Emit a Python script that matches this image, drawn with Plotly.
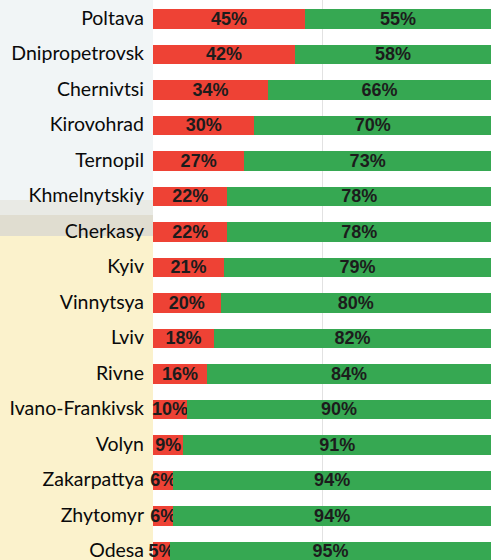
import plotly.graph_objects as go

regions = ["Poltava", "Dnipropetrovsk", "Chernivtsi", "Kirovohrad", "Ternopil",
           "Khmelnytskiy", "Cherkasy", "Kyiv", "Vinnytsya", "Lviv", "Rivne",
           "Ivano-Frankivsk", "Volyn", "Zakarpattya", "Zhytomyr", "Odesa"]
red_values = [45, 42, 34, 30, 27, 22, 22, 21, 20, 18, 16, 10, 9, 6, 6, 5]
green_values = [55, 58, 66, 70, 73, 78, 78, 79, 80, 82, 84, 90, 91, 94, 94, 95]

RED = "#ee4235"
GREEN = "#36a852"
TEXTFONT = dict(family="Liberation Sans, Arial", size=18, color="#1c1c1c", weight="bold")

fig = go.Figure()
fig.add_trace(go.Bar(
    y=regions, x=red_values, orientation="h", marker=dict(color=RED, line=dict(width=0)),
    text=[f"{v}%" for v in red_values], textposition="inside", insidetextanchor="middle",
    constraintext="none", textangle=0, cliponaxis=False, textfont=TEXTFONT, hoverinfo="skip",
))
fig.add_trace(go.Bar(
    y=regions, x=green_values, orientation="h", marker=dict(color=GREEN, line=dict(width=0)),
    text=[f"{v}%" for v in green_values], textposition="inside", insidetextanchor="middle",
    constraintext="none", textangle=0, cliponaxis=False, textfont=TEXTFONT, hoverinfo="skip",
))

H = 560
def py(px):
    return 1 - px / H

shapes = [
    dict(type="rect", xref="paper", yref="paper", x0=-1, x1=0, y0=py(0), y1=py(200),
         fillcolor="#f1f5f6", line=dict(width=0), layer="below"),
    dict(type="rect", xref="paper", yref="paper", x0=-1, x1=0, y0=py(200), y1=py(215),
         fillcolor="#e9eae5", line=dict(width=0), layer="below"),
    dict(type="rect", xref="paper", yref="paper", x0=-1, x1=0, y0=py(215), y1=py(236),
         fillcolor="#e0ddd0", line=dict(width=0), layer="below"),
    dict(type="rect", xref="paper", yref="paper", x0=-1, x1=0, y0=py(236), y1=py(560),
         fillcolor="#fbf2cc", line=dict(width=0), layer="below"),
]

fig.update_layout(
    barmode="stack",
    bargap=0.45,
    width=491, height=560,
    margin=dict(l=153, r=0, t=0, b=0),
    paper_bgcolor="#fbf2cc",
    plot_bgcolor="#ffffff",
    showlegend=False,
    shapes=shapes,
    xaxis=dict(range=[0, 100], dtick=50, showgrid=True, gridcolor="#e2e2e2", gridwidth=1,
               showticklabels=False, zeroline=False, showline=False, fixedrange=True),
    yaxis=dict(categoryorder="array", categoryarray=regions, range=[15.24, -0.535],
               showgrid=False, zeroline=False, showline=False, ticks="",
               ticklabelstandoff=8, ticklabelshift=1, automargin=False,
               tickfont=dict(family="Lato", size=19.5, color="#0a0a0a")),
)

fig.write_html("out.html", config={"displayModeBar": False},
               post_script="document.body.style.margin='0';")
